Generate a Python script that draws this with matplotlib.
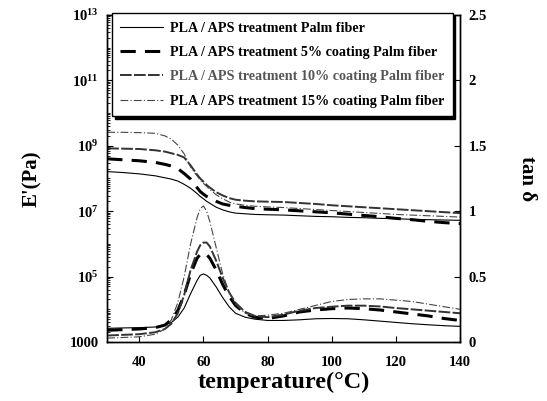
import matplotlib.pyplot as plt
from matplotlib.ticker import LogLocator, NullFormatter
import numpy as np

# DATA
temperatura = [30, 35, 40, 45, 48, 50, 52, 54, 56, 58, 59, 60, 61, 62, 64, 66, 68,
               70, 73, 76, 80, 85, 90, 95, 100, 105, 110, 115, 120, 125, 130, 135, 140]

# log10 of E' (Pa)
logE_palm = [8.21, 8.18, 8.14, 8.08, 8.02, 7.98, 7.92, 7.82, 7.70, 7.54, 7.45, 7.38, 7.30,
             7.24, 7.12, 7.04, 6.98, 6.94, 6.92, 6.90, 6.89, 6.88, 6.86, 6.84, 6.83, 6.81,
             6.80, 6.78, 6.77, 6.75, 6.74, 6.73, 6.72]
logE_5 = [8.60, 8.57, 8.54, 8.49, 8.43, 8.38, 8.30, 8.15, 7.98, 7.72, 7.60, 7.52, 7.45,
          7.40, 7.30, 7.22, 7.18, 7.15, 7.11, 7.08, 7.06, 7.04, 7.01, 6.98, 6.95, 6.91,
          6.87, 6.83, 6.78, 6.74, 6.69, 6.65, 6.62]
logE_10 = [8.92, 8.91, 8.90, 8.86, 8.82, 8.77, 8.72, 8.64, 8.40, 8.12, 8.00, 7.90, 7.80,
           7.72, 7.58, 7.48, 7.40, 7.35, 7.32, 7.30, 7.29, 7.28, 7.25, 7.22, 7.18, 7.15,
           7.12, 7.09, 7.06, 7.03, 7.00, 6.97, 6.94]
logE_15 = [9.41, 9.41, 9.40, 9.38, 9.30, 9.20, 9.02, 8.75, 8.35, 8.08, 7.95, 7.85, 7.76,
           7.66, 7.50, 7.38, 7.28, 7.22, 7.18, 7.15, 7.13, 7.11, 7.08, 7.05, 7.02, 6.99,
           6.96, 6.93, 6.90, 6.88, 6.86, 6.84, 6.82]

tan_palm = [0.105, 0.108, 0.11, 0.115, 0.13, 0.15, 0.19, 0.26, 0.37, 0.47, 0.51, 0.52, 0.51,
            0.49, 0.42, 0.34, 0.27, 0.22, 0.19, 0.175, 0.165, 0.165, 0.17, 0.178, 0.18, 0.178,
            0.17, 0.16, 0.15, 0.14, 0.132, 0.125, 0.12]
tan_5 = [0.09, 0.095, 0.10, 0.11, 0.13, 0.17, 0.24, 0.36, 0.52, 0.64, 0.67, 0.68, 0.67,
         0.64, 0.55, 0.44, 0.35, 0.28, 0.22, 0.19, 0.18, 0.20, 0.23, 0.245, 0.255, 0.26,
         0.255, 0.245, 0.23, 0.215, 0.20, 0.18, 0.165]
tan_10 = [0.05, 0.055, 0.06, 0.075, 0.10, 0.14, 0.22, 0.36, 0.55, 0.69, 0.74, 0.76, 0.76,
          0.73, 0.62, 0.49, 0.38, 0.30, 0.23, 0.20, 0.19, 0.21, 0.24, 0.26, 0.27, 0.278,
          0.278, 0.272, 0.26, 0.25, 0.24, 0.23, 0.22]
tan_15 = [0.03, 0.035, 0.04, 0.06, 0.10, 0.17, 0.30, 0.50, 0.75, 0.95, 1.02, 1.04, 1.00,
          0.92, 0.72, 0.52, 0.38, 0.29, 0.22, 0.20, 0.205, 0.22, 0.25, 0.28, 0.31, 0.325,
          0.33, 0.33, 0.32, 0.31, 0.29, 0.27, 0.25]

nomes = ['PLA / APS treatment Palm fiber',
         'PLA / APS treatment 5% coating Palm fiber',
         'PLA / APS treatment 10% coating Palm fiber',
         'PLA / APS treatment 15% coating Palm fiber']

plt.rcParams['font.family'] = 'Liberation Serif'
plt.rcParams['font.weight'] = 'bold'
plt.rcParams['mathtext.fontset'] = 'custom'
plt.rcParams['mathtext.rm'] = 'Liberation Serif:bold'
plt.rcParams['mathtext.bf'] = 'Liberation Serif:bold'

estilos = [
    dict(color='black', lw=0.8, ls='-'),
    dict(color='black', lw=2.2, ls=(0, (5, 3))),
    dict(color='#333333', lw=1.4, ls=(0, (6, 1.2))),
    dict(color='#444444', lw=0.8, ls=(0, (7, 2, 1, 2))),
]

fig = plt.figure(figsize=(5.47, 4.01), dpi=100)
ax = fig.add_axes([0.196, 0.147, 0.645, 0.816])
ax2 = ax.twinx()

linhas = []
for logE, est, nome in zip([logE_palm, logE_5, logE_10, logE_15], estilos, nomes):
    l, = ax.plot(temperatura, np.power(10.0, logE), label=nome, **est)
    linhas.append(l)
for tan, est in zip([tan_palm, tan_5, tan_10, tan_15], estilos):
    ax2.plot(temperatura, tan, **est)

ax.set_yscale('log')
ax.set_xlim(30, 140)
ax.set_ylim(1e3, 1e13)
ax2.set_ylim(0, 2.5)

ax.set_xticks([40, 60, 80, 100, 120, 140])
ax.set_yticks([10.0**k for k in range(3, 14, 2)])
ax.set_yticklabels(['1000'] + [r'$\mathbf{10^{%d}}$' % k for k in range(5, 14, 2)])
ax.yaxis.set_minor_locator(LogLocator(base=10, subs='all', numticks=200))
ax.yaxis.set_minor_formatter(NullFormatter())
ax2.set_yticks([0, 0.5, 1, 1.5, 2, 2.5])
ax2.set_yticklabels(['0', '0.5', '1', '1.5', '2', '2.5'])

ax.tick_params(axis='x', direction='in', labelsize=10.5, length=4, width=0.8, pad=10)
ax.tick_params(axis='y', direction='in', labelsize=10.5, length=4, width=0.8, pad=6)
ax.tick_params(axis='y', which='minor', direction='in', length=2, width=0.6)
ax2.tick_params(axis='y', direction='in', labelsize=10.5, length=4, width=0.8, pad=6)
for a in (ax, ax2):
    for s in a.spines.values():
        s.set_linewidth(1.0)

ax.set_xlabel('temperature(\u00b0C)', fontsize=17.5, fontweight='bold', labelpad=2)
ax.set_ylabel("E'(Pa)", fontsize=15, fontweight='bold', labelpad=20)
ax2.set_ylabel('tan \u03b4', fontsize=15, fontweight='bold', rotation=270,
               labelpad=36, family=['Liberation Serif', 'DejaVu Serif'])

leg = ax2.legend(handles=linhas, loc='upper left', bbox_to_anchor=(0.013, 1.005),
                 borderaxespad=0, fontsize=10.2, handlelength=3.0, handletextpad=0.5,
                 labelspacing=0.8, borderpad=0.6, fancybox=False, framealpha=1,
                 edgecolor='black', shadow={'color': 'black', 'alpha': 1})
leg.get_frame().set_linewidth(1.0)
leg.get_texts()[2].set_color('#555555')

fig.savefig('out.png', dpi=100)
plt.close(fig)
